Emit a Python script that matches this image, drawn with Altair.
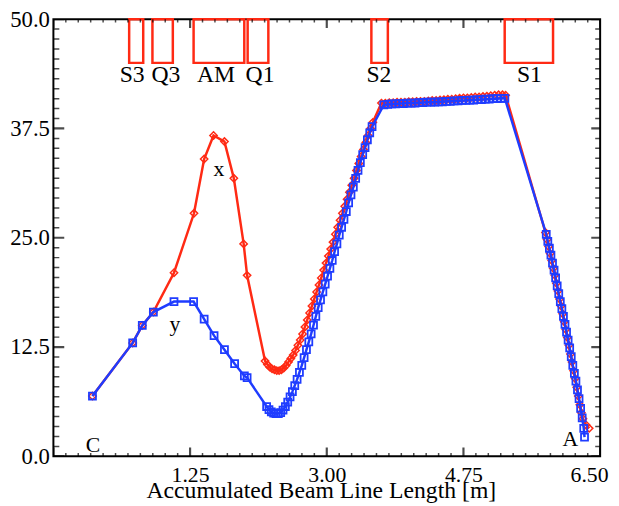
import altair as alt
import pandas as pd

RED = "#ff2a14"
BLUE = "#1f3cff"
SERIF = "Liberation Serif"

# ---------------- beam envelope, horizontal plane (red, "x") ----------------
x_s = [0.00, 0.515, 0.638, 0.78, 1.044, 1.30, 1.43, 1.55, 1.69, 1.81, 1.936, 1.98,
       2.21, 2.24, 2.27, 2.30, 2.33, 2.36, 2.39, 2.42, 2.45, 2.48, 2.51, 2.54, 2.57,
       2.60, 2.63, 2.66, 2.69, 2.72, 2.75, 2.78, 2.81, 2.84, 2.87, 2.90, 2.93, 2.96,
       2.99, 3.02, 3.05, 3.08, 3.11, 3.14, 3.17, 3.20, 3.23, 3.26, 3.29, 3.32, 3.35,
       3.38, 3.41, 3.44, 3.47, 3.50, 3.53, 3.56, 3.59,
       3.70, 3.75, 3.80, 3.85, 3.90, 3.95, 4.00, 4.05, 4.10, 4.15, 4.20, 4.25, 4.30,
       4.35, 4.40, 4.45, 4.50, 4.55, 4.60, 4.65, 4.70, 4.75, 4.80, 4.85, 4.90, 4.95,
       5.00, 5.05, 5.10, 5.15, 5.20, 5.25, 5.29,
       5.80, 5.82, 5.84, 5.86, 5.88, 5.90, 5.92, 5.94, 5.96, 5.98, 6.00, 6.02, 6.04,
       6.06, 6.08, 6.10, 6.12, 6.14, 6.16, 6.18, 6.20, 6.22, 6.24, 6.26, 6.28, 6.32, 6.36]
x_env = [6.9, 12.97, 14.97, 16.5, 21.0, 27.8, 34.0, 36.7, 36.0, 31.8, 24.3, 20.7,
         10.9, 10.5, 10.2, 10.0, 9.9, 9.8, 9.8, 9.9, 10.1, 10.4, 10.8, 11.2, 11.6,
         12.1, 12.7, 13.3, 14.0, 14.8, 15.6, 16.4, 17.2, 18.0, 18.8, 19.6, 20.4, 21.3,
         22.1, 22.9, 23.7, 24.5, 25.4, 26.2, 27.0, 27.8, 28.6, 29.4, 30.2, 31.0, 31.8,
         32.7, 33.5, 34.3, 35.1, 35.9, 36.7, 37.5, 38.2,
         40.4, 40.4, 40.45, 40.45, 40.5, 40.5, 40.5, 40.55, 40.55, 40.6, 40.6, 40.6, 40.65,
         40.7, 40.7, 40.75, 40.8, 40.85, 40.85, 40.9, 40.95, 41.0, 41.0, 41.05, 41.1, 41.1,
         41.15, 41.2, 41.25, 41.3, 41.35, 41.35, 41.3,
         25.6, 24.8, 24.0, 23.2, 22.4, 21.5, 20.7, 19.8, 18.9, 18.0, 17.2, 16.3, 15.4,
         14.5, 13.6, 12.7, 11.7, 10.8, 9.8, 8.9, 7.9, 6.9, 5.9, 5.0, 4.3, 3.6, 3.2]

# ---------------- beam envelope, vertical plane (blue, "y") ----------------
y_s = [0.00, 0.515, 0.638, 0.78, 1.044, 1.295, 1.43, 1.557, 1.69, 1.82, 1.945, 1.98,
       2.23, 2.26, 2.29, 2.32, 2.35, 2.38, 2.41, 2.44, 2.47, 2.50, 2.53, 2.56, 2.59,
       2.62, 2.65, 2.68, 2.71, 2.74, 2.77, 2.80, 2.83, 2.86, 2.89, 2.92, 2.95, 2.98,
       3.01, 3.04, 3.07, 3.10, 3.13, 3.16, 3.19, 3.22, 3.25, 3.28, 3.31, 3.34, 3.37,
       3.40, 3.43, 3.46, 3.49, 3.52, 3.55, 3.58,
       3.73, 3.78, 3.83, 3.88, 3.93, 3.98, 4.03, 4.08, 4.13, 4.18, 4.23, 4.28, 4.33,
       4.38, 4.43, 4.48, 4.53, 4.58, 4.63, 4.68, 4.73, 4.78, 4.83, 4.88, 4.93, 4.98,
       5.03, 5.08, 5.13, 5.18, 5.23, 5.28,
       5.81, 5.83, 5.85, 5.87, 5.89, 5.91, 5.93, 5.95, 5.97, 5.99, 6.01, 6.03, 6.05,
       6.07, 6.09, 6.11, 6.13, 6.15, 6.17, 6.19, 6.21, 6.23, 6.25, 6.27, 6.29, 6.30]
y_env = [6.9, 12.97, 14.97, 16.5, 17.7, 17.7, 15.7, 13.8, 12.2, 10.6, 9.2, 9.0,
         5.7, 5.35, 5.1, 4.95, 4.9, 4.9, 5.0, 5.3, 5.7, 6.2, 6.8, 7.4, 8.1,
         8.8, 9.6, 10.4, 11.3, 12.2, 13.1, 14.0, 15.0, 16.0, 17.0, 17.9, 18.8, 19.7,
         20.6, 21.5, 22.4, 23.4, 24.3, 25.3, 26.2, 27.1, 28.0, 29.0, 29.9, 30.8, 31.8,
         32.7, 33.6, 34.5, 35.3, 36.2, 37.0, 37.7,
         40.2, 40.25, 40.3, 40.3, 40.35, 40.35, 40.4, 40.4, 40.4, 40.45, 40.45, 40.5, 40.5,
         40.5, 40.55, 40.55, 40.6, 40.6, 40.65, 40.65, 40.7, 40.7, 40.75, 40.75, 40.8, 40.8,
         40.85, 40.85, 40.9, 40.9, 40.95, 40.95,
         25.4, 24.6, 23.8, 23.0, 22.1, 21.3, 20.4, 19.5, 18.6, 17.7, 16.9, 16.0, 15.1,
         14.2, 13.3, 12.4, 11.4, 10.4, 9.5, 8.6, 7.6, 6.6, 5.5, 4.4, 3.2, 2.2]

# ---------------- beam line elements ----------------
mag_names = ["S3", "Q3", "AM", "Q1", "S2", "S1"]
mag_start = [0.470, 0.768, 1.295, 1.987, 3.571, 5.278]
mag_end = [0.650, 1.029, 1.944, 2.252, 3.782, 5.897]
mag_label_x = [0.508, 0.941, 1.582, 2.146, 3.668, 5.594]
mag_bottom = 45.0
mag_top = 50.0
mag_label_y = 43.6

# ---------------- annotations ----------------
ann_text = ["x", "y", "C", "A"]
ann_s = [1.62, 1.055, 0.006, 6.12]
ann_v = [32.8, 15.1, 1.3, 2.0]

# ---------------- axis ticks ----------------
x_major = [-0.5, 1.25, 3.0, 4.75, 6.5]
x_labels = [1.25, 3.0, 4.75, 6.5]
y_major = [0.0, 12.5, 25.0, 37.5, 50.0]
x_minor = [round(-0.5 + k * 1.75 / 11, 4) for k in range(45) if k % 11]
y_minor = [round(k * 12.5 / 11, 4) for k in range(45) if k % 11]

W, H = 554, 443

xscale = alt.Scale(domain=[-0.5, 6.5], nice=False, zero=False)
yscale = alt.Scale(domain=[0, 50], nice=False, zero=False)

df_x = pd.DataFrame({"s": x_s, "v": x_env, "i": range(len(x_s))})
df_y = pd.DataFrame({"s": y_s, "v": y_env, "i": range(len(y_s))})
df_mag = pd.DataFrame({"name": mag_names, "s0": mag_start, "s1": mag_end,
                       "b": mag_bottom, "t": mag_top, "lx": mag_label_x,
                       "ly": mag_label_y})
df_ann = pd.DataFrame({"t": ann_text, "s": ann_s, "v": ann_v})

XTITLE = "Accumulated Beam Line Length [m]"

x_axis = alt.Axis(values=x_labels, format=".2f", ticks=False, domain=False, grid=False,
                  labelFont=SERIF, labelFontSize=22, labelColor="black", labelPadding=8,
                  labelFlush=True,
                  labelOffset={"condition": {"test": "datum.value > 6", "value": 8},
                               "value": 0},
                  title=XTITLE, titleFont=SERIF,
                  titleFontSize=24, titleFontWeight="normal", titleColor="black",
                  titleY=42, titleBaseline="alphabetic", titleX=271, titleAlign="center")
y_axis = alt.Axis(values=y_major, format=".1f", ticks=False, domain=False, grid=False,
                  labelFont=SERIF, labelFontSize=23, labelColor="black", labelPadding=4,
                  labelFlush=False, title="")


def X(field):
    return alt.X(field, scale=xscale, axis=x_axis, title=XTITLE)


def Y(field):
    return alt.Y(field, scale=yscale, axis=y_axis, title="")


magnets = alt.Chart(df_mag).mark_rect(filled=False, color=RED, strokeWidth=2.5).encode(
    x=X("s0:Q"), x2="s1:Q", y=Y("b:Q"), y2="t:Q")
mag_text = alt.Chart(df_mag).mark_text(font=SERIF, fontSize=24, color="black",
                                       baseline="middle").encode(
    x=X("lx:Q"), y=Y("ly:Q"), text="name:N")

red_line = alt.Chart(df_x).mark_line(
    color=RED, strokeWidth=2.5,
    point=alt.OverlayMarkDef(shape="diamond", filled=False, size=55,
                             strokeWidth=1.5, color=RED)
).encode(x=X("s:Q"), y=Y("v:Q"), order="i:Q")

blue_line = alt.Chart(df_y).mark_line(
    color=BLUE, strokeWidth=2.5,
    point=alt.OverlayMarkDef(shape="square", filled=False, size=50,
                             strokeWidth=1.8, color=BLUE)
).encode(x=X("s:Q"), y=Y("v:Q"), order="i:Q")

ann = alt.Chart(df_ann).mark_text(font=SERIF, fontSize=22, color="black",
                                  baseline="middle").encode(
    x=X("s:Q"), y=Y("v:Q"), text="t:N")


def tick_layer(vals, horizontal, pos, length, thick):
    d = pd.DataFrame({"tv": vals})
    m = alt.Chart(d).mark_tick(clip=True, color="black", size=2 * length,
                               thickness=thick)
    if horizontal:
        return m.encode(y=Y("tv:Q"), x=alt.value(pos))
    return m.encode(x=X("tv:Q"), y=alt.value(pos))


ticks = [
    tick_layer(x_major, False, H, 9, 2.2), tick_layer(x_minor, False, H, 3.5, 1.5),
    tick_layer(x_major, False, 0, 9, 2.2), tick_layer(x_minor, False, 0, 3.5, 1.5),
    tick_layer(y_major, True, 0, 11, 2.2), tick_layer(y_minor, True, 0, 6, 1.5),
    tick_layer(y_major, True, W, 9, 2.2), tick_layer(y_minor, True, W, 5, 1.5),
]

chart = alt.layer(magnets, mag_text, red_line, blue_line, ann, *ticks).properties(
    width=W, height=H,
    autosize=alt.AutoSizeParams(type="none"),
    padding={"left": 46, "top": 8, "right": 11, "bottom": 47},
    background="white",
).configure_view(stroke="black", strokeWidth=2)

chart.save("out.html", embed_options={"renderer": "svg", "actions": False})
